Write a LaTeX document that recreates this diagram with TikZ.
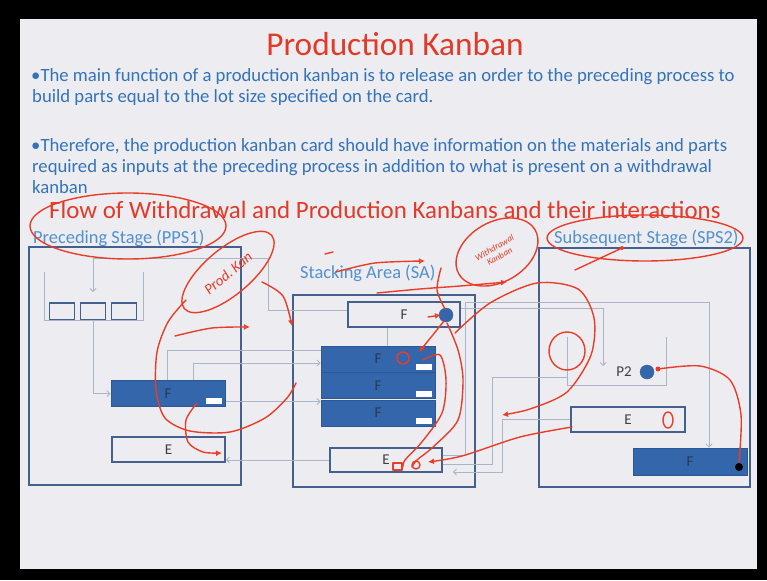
\documentclass[tikz,border=0pt]{standalone}
\usepackage{fontspec}
\setmainfont{Carlito}
\usetikzlibrary{arrows.meta}

\definecolor{slidebg}{RGB}{236,236,241}
\definecolor{titlered}{RGB}{226,58,40}
\definecolor{textblue}{RGB}{52,115,185}
\definecolor{labelblue}{RGB}{82,145,205}
\definecolor{boxline}{RGB}{68,96,140}
\definecolor{cardfill}{RGB}{52,102,172}
\definecolor{wirecol}{RGB}{170,181,198}
\definecolor{pencol}{RGB}{232,62,40}

\tikzset{
	stage/.style={draw=boxline, line width=2pt},
	bin/.style={draw=boxline, line width=1.8pt, minimum width=25pt, minimum height=17pt},
	emptycard/.style={draw=boxline, line width=1.8pt, minimum width=113pt, minimum height=25pt, text=black!75, font=\fontsize{15}{18}\selectfont},
	fullcard/.style={fill=cardfill, draw=cardfill!85!black, line width=1pt, minimum width=114pt, minimum height=26pt, text=boxline!60!black, font=\fontsize{15}{18}\selectfont},
	tag/.style={fill=white, minimum width=16pt, minimum height=6pt, inner sep=0pt},
	dot/.style={circle, fill=cardfill, draw=boxline, minimum size=14pt, inner sep=0pt},
	wire/.style={draw=wirecol, line width=0.8pt},
	wirearrow/.style={wire, -{Straight Barb[length=3pt, width=6pt]}},
	body/.style={anchor=base west, text=textblue, inner sep=0pt, font=\fontsize{18.7}{21}\selectfont},
	stagelabel/.style={anchor=base west, text=labelblue, inner sep=0pt, font=\fontsize{18.4}{21}\selectfont},
	pen/.style={draw=pencol, line width=1.4pt, line cap=round, line join=round},
	penarrow/.style={pen, -{Latex[open, length=6pt, width=6pt]}},
	hand/.style={text=pencol, inner sep=0pt, font=\itshape}
}

\begin{document}
\begin{tikzpicture}[x=1pt, y=-1pt]

	\useasboundingbox (0,0) rectangle (767,580);
	\fill[black] (0,0) rectangle (767,580);
	\fill[slidebg] (20,19) rectangle (757,569);

	% text of the slide
	\node[text=titlered, font=\fontsize{33.3}{38}\selectfont] (title) at (395,44) {Production Kanban};
	\node[body] (l1) at (31,82) {•The main function of a production kanban is to release an order to the preceding process to};
	\node[body] (l2) at (32,103) {build parts equal to the lot size specified on the card.};
	\node[body] (l3) at (31,151) {•Therefore, the production kanban card should have information on the materials and parts};
	\node[body] (l4) at (32,172) {required as inputs at the preceding process in addition to what is present on a withdrawal};
	\node[body] (l5) at (32,193) {kanban};
	\node[anchor=base west, inner sep=0pt, text=titlered, font=\fontsize{24.9}{28}\selectfont] (flow) at (49,218) {Flow of Withdrawal and Production Kanbans and their interactions};

	\node[stagelabel] (ppsLabel) at (33,243) {Preceding Stage (PPS1)};
	\node[stagelabel] (saLabel) at (300,278) {Stacking Area (SA)};
	\node[stagelabel] (spsLabel) at (554,243) {Subsequent Stage (SPS2)};

	% the three areas
	\node[stage, minimum width=212pt, minimum height=238pt] (pps) at (135,366) {};
	\node[stage, minimum width=182pt, minimum height=192pt] (sa) at (384,391) {};
	\node[stage, minimum width=211pt, minimum height=239pt] (sps) at (644.5,367.5) {};

	% preceding stage
	\node[bin] (b1) at (62,311.5) {};
	\node[bin] (b2) at (93,311.5) {};
	\node[bin] (b3) at (124,311.5) {};
	\draw[wire] (44,272) |- (143,320) -- (143,272);

	\node[fullcard] (ppsF) at (168,393.5) {F};
	\node[tag] (ppsTag) at (214,401) {};
	\node[emptycard] (ppsE) at (168.5,449.5) {E};

	% stacking area
	\node[emptycard, minimum width=112pt] (saTop) at (404,314.5) {F};
	\node[dot] (saDot) at (446,315) {};
	\node[fullcard] (saF1) at (378,359) {F};
	\node[fullcard] (saF2) at (378,385.5) {F};
	\node[fullcard] (saF3) at (378,413) {F};
	\node[tag] (saTag1) at (424,367) {};
	\node[tag] (saTag2) at (424,394) {};
	\node[tag] (saTag3) at (424,421) {};
	\node[emptycard, minimum width=112pt, minimum height=24pt] (saE) at (386,460) {E};

	% subsequent stage
	\node[text=black!75, inner sep=0pt, font=\fontsize{15}{18}\selectfont] (p2) at (624,372) {P2};
	\node[dot] (p2Dot) at (647,372) {};
	\draw[wire] (567,337) |- (666,385) -- (666,337);
	\node[emptycard, minimum width=114pt] (spsE) at (628,419.5) {E};
	\node[fullcard, minimum height=27pt] (spsF) at (690,461.5) {F};
	\node[circle, fill=black, minimum size=8pt, inner sep=0pt] (spsDot) at (739,467) {};

	\coordinate (binIn) at (93,292);
	\coordinate (p2In) at (603,366);
	\coordinate (p2Bin) at (567,377);

	% card and container flows
	\draw[wirearrow] ([yshift=4pt]saTop.west) -- (268,310.5) -- (268,258) -- (93,258) -- (binIn);
	\draw[wirearrow] (b2.south) |- (ppsF.west);
	\draw[wire] ([xshift=-1pt]ppsF.north) |- ([yshift=9pt]saF1.west);
	\draw[wirearrow] ([xshift=25pt]ppsF.north) |- ([yshift=-4pt]saF1.west);
	\draw[wirearrow] ([yshift=-8pt]ppsF.east) -- ([yshift=11.5pt]saF3.west);
	\draw[wirearrow] (saE.west) -- (saE.west -| ppsE.east);
	\draw[wire] ([xshift=-17pt]saTop.south) -- ([xshift=9pt]saF1.north);
	\draw[wirearrow] ([yshift=5pt]saE.east) -| (465,302) -| ([xshift=19pt]spsF.north);
	\draw[wirearrow] ([yshift=6pt]saTop.east) -| (p2In);
	\draw[wire] (p2Bin) -- (492,377) |- ([yshift=-4pt]saE.east);
	\draw[wirearrow] (spsE.west) -- (502,419.5) |- ([xshift=10pt, yshift=-12pt]saE.east);

	% pen marks over the slide
	\draw[pen] (128,226) ellipse [x radius=98pt, y radius=33pt];
	\draw[pen] (645,238) ellipse [x radius=98pt, y radius=23pt];
	\draw[pen] (622,248) -- (575,270);
	\fill[pencol] (622,248) circle [radius=2pt];

	\draw[pen, rotate around={40:(228,272)}] (228,272) ellipse [x radius=57pt, y radius=23pt];
	\node[hand, rotate=40, font=\itshape\fontsize{15}{17}\selectfont] (prodKan) at (228,273) {Prod.\,Kan};
	\draw[penarrow] plot[smooth] coordinates {(262,282) (283,296) (292,326)};
	\draw[penarrow] plot[smooth] coordinates {(175,336) (212,328) (250,327)};
	\draw[pen] plot[smooth] coordinates {(186,300) (168,322) (157,352) (156,390) (165,418) (190,431) (230,432) (265,418) (287,398) (296,383)};
	\draw[penarrow] plot[smooth] coordinates {(197,403) (186,420) (188,442) (203,452) (222,453)};

	\draw[pen, rotate around={30:(497,252)}] (497,252) ellipse [x radius=44pt, y radius=30pt];
	\node[hand, rotate=30, align=center, font=\itshape\fontsize{9}{10}\selectfont] (wdKan) at (497,252) {Withdrawal\\Kanban};
	\draw[penarrow] plot[smooth] coordinates {(377,293) (420,289) (460,286) (507,282)};
	\draw[pen] (325,254) -- (333,252);
	\draw[penarrow] plot[smooth] coordinates {(336,272) (375,263) (425,261)};

	\draw[pen] plot[smooth] coordinates {(441,268) (437,290) (445,309)};
	\draw[penarrow] (428,317) -- (441,315);
	\draw[penarrow] plot[smooth] coordinates {(444,321) (432,336) (419,352)};
	\draw[pen] (403,358) circle [radius=6pt];
	\draw[pen] plot[smooth] coordinates {(423,360) (440,355) (446,380) (442,413) (421,443) (405,460) (403,467)};
	\draw[pen] plot[smooth] coordinates {(447,323) (458,350) (463,380) (458,420) (433,447) (417,460) (412,467)};
	\draw[pen] (393,463) rectangle (402,470);
	\draw[pen] (416,465) circle [radius=4pt];
	\draw[penarrow] plot[smooth] coordinates {(572,427) (520,437) (462,456) (428,462)};

	\draw[penarrow] plot[smooth] coordinates {(455,333) (490,303) (537,283) (578,289) (594,318) (591,355) (567,392) (530,409) (502,415)};
	\draw[pen] (567,351) ellipse [x radius=18pt, y radius=19pt];
	\draw[pen] (668,420) ellipse [x radius=5pt, y radius=8pt];
	\draw[pen] plot[smooth] coordinates {(739,462) (741,415) (730,380) (700,366) (658,369)};
	\fill[pencol] (658,369) circle [radius=2.5pt];

\end{tikzpicture}
\end{document}
